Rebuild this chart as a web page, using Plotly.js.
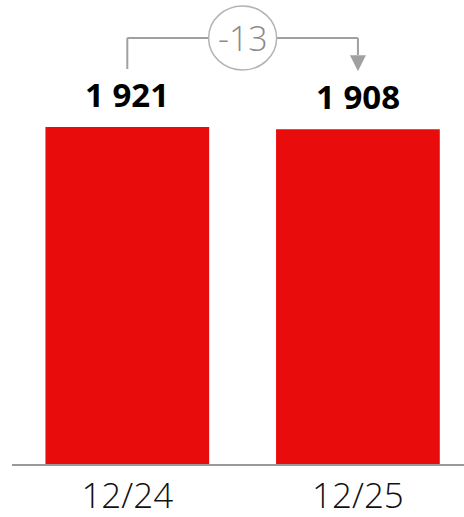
<!DOCTYPE html>
<html>
<head>
<meta charset="utf-8">
<script src="https://cdn.plot.ly/plotly-3.0.1.min.js"></script>
<style>html,body{margin:0;padding:0;background:#fff;}#chart{width:464px;height:517px;}</style>
</head>
<body>
<div id="chart"></div>
<script>
const categories = ['12/24', '12/25'];
const values = [1921, 1908];
const barColor = '#e80c0c';
const grey = '#a0a0a0';

const fmt = v => String(v).replace(/\B(?=(\d{3})+(?!\d))/g, ' ');
const delta = values[1] - values[0];
const ymax = Math.max(...values);
const levelPx = 89;   // bracket level above tallest bar (px)
const gapPx = 58;     // bracket ends above each bar (px)

const trace = {
  type: 'bar',
  x: categories,
  y: values,
  marker: {color: barColor},
  hoverinfo: 'none'
};

const annotations = categories.map((c, i) => ({
  x: c, y: values[i], xref: 'x', yref: 'y',
  text: '<b>' + fmt(values[i]) + '</b>',
  showarrow: false, yanchor: 'bottom', yshift: 8,
  font: {family: 'Open Sans', size: 33, color: '#000'}
}));
annotations.push({
  x: 0.5, y: ymax, xref: 'x', yref: 'y', yshift: levelPx,
  text: String(delta), showarrow: false, yanchor: 'middle',
  font: {family: 'Open Sans', size: 34, color: '#8a8a8a', weight: 300}
});

const shapes = [
  {type: 'line', xref: 'x', yref: 'y', x0: 0, x1: 0, ysizemode: 'pixel', yanchor: values[0],
   y0: gapPx, y1: levelPx, line: {color: grey, width: 2}},
  {type: 'line', xref: 'x', yref: 'y', x0: 0, x1: 1, ysizemode: 'pixel', yanchor: ymax,
   y0: levelPx, y1: levelPx, line: {color: grey, width: 2}},
  {type: 'line', xref: 'x', yref: 'y', x0: 1, x1: 1, ysizemode: 'pixel', yanchor: ymax,
   y0: levelPx, y1: gapPx + 14, line: {color: grey, width: 2}},
  {type: 'path', xref: 'x', yref: 'y', xsizemode: 'pixel', xanchor: 1, ysizemode: 'pixel', yanchor: values[1],
   path: 'M-8,' + (gapPx + 16) + ' L8,' + (gapPx + 16) + ' L0,' + gapPx + ' Z',
   fillcolor: grey, line: {color: grey, width: 0}},
  {type: 'circle', xref: 'x', yref: 'y', xsizemode: 'pixel', xanchor: 0.5, x0: -34, x1: 34,
   ysizemode: 'pixel', yanchor: ymax, y0: levelPx - 32, y1: levelPx + 32,
   fillcolor: '#fff', line: {color: '#b4b4b4', width: 1.5}}
];

const layout = {
  width: 464, height: 517,
  margin: {l: 12, r: 0, t: 0, b: 53},
  paper_bgcolor: '#fff', plot_bgcolor: '#fff',
  showlegend: false,
  bargap: 0.29,
  xaxis: {
    type: 'category', range: [-0.5, 1.46],
    showgrid: false, zeroline: false,
    showline: true, linecolor: '#999', linewidth: 2,
    ticks: '', ticklen: 0,
    tickfont: {family: 'Open Sans', size: 35, color: '#111', weight: 300}
  },
  yaxis: {
    range: [0, 2645], visible: false, showgrid: false, zeroline: false
  },
  annotations: annotations,
  shapes: shapes
};

Plotly.newPlot('chart', [trace], layout, {displayModeBar: false, staticPlot: true});
</script>
</body>
</html>
